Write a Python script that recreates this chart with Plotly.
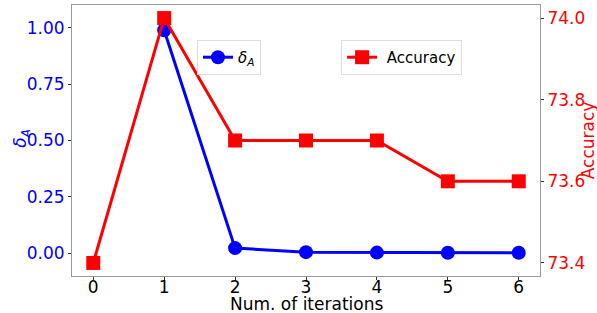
import plotly.graph_objects as go

iterations = [0, 1, 2, 3, 4, 5, 6]
delta_x = [1, 2, 3, 4, 5, 6]
delta_a = [0.99, 0.022, 0.004, 0.002, 0.001, 0.001]
accuracy = [73.4, 74.0, 73.7, 73.7, 73.7, 73.6, 73.6]
left_ticks = [0.0, 0.25, 0.5, 0.75, 1.0]
left_labels = ["0.00", "0.25", "0.50", "0.75", "1.00"]
right_ticks = [73.4, 73.6, 73.8, 74.0]
right_labels = ["73.4", "73.6", "73.8", "74.0"]

FONT = "DejaVu Sans"

fig = go.Figure()
fig.add_trace(go.Scatter(
    x=delta_x, y=delta_a, mode="lines+markers", name="<i>δ<sub>A</sub></i>",
    line=dict(color="#0000ff", width=3),
    marker=dict(symbol="circle", size=14, color="#0000ff"),
    legend="legend", yaxis="y", cliponaxis=False,
))
fig.add_trace(go.Scatter(
    x=iterations, y=accuracy, mode="lines+markers", name=" Accuracy",
    line=dict(color="#ff0000", width=3),
    marker=dict(symbol="square", size=14, color="#ff0000"),
    legend="legend2", yaxis="y2", cliponaxis=False,
))

axis_line = dict(showline=True, linecolor="#999999", linewidth=1, automargin=False,
                 ticks="outside", ticklen=3, tickcolor="#333333", showgrid=False, zeroline=False)

fig.update_layout(
    width=597, height=313,
    margin=dict(l=72, r=57, t=5, b=37),
    plot_bgcolor="white", paper_bgcolor="white",
    font=dict(family=FONT, size=17, color="black"),
    xaxis=dict(range=[-0.3, 6.3], tickmode="array", tickvals=iterations,
               tickfont=dict(size=17), mirror=True, ticklabelstandoff=-7, **axis_line),
    yaxis=dict(range=[-0.102, 1.102], tickmode="array", tickvals=left_ticks,
               ticktext=left_labels, tickfont=dict(size=17, color="#0000ff"),
               **axis_line),
    yaxis2=dict(range=[73.368, 74.032], overlaying="y", side="right", tickmode="array",
                tickvals=right_ticks, ticktext=right_labels,
                tickfont=dict(size=17, color="#ff0000"),
                **axis_line),
    legend=dict(x=0.267, y=0.871, xanchor="left", yanchor="top",
                bgcolor="rgba(255,255,255,0.8)", bordercolor="#dddddd", borderwidth=1,
                font=dict(size=15)),
    legend2=dict(x=0.575, y=0.871, xanchor="left", yanchor="top",
                 bgcolor="rgba(255,255,255,0.8)", bordercolor="#dddddd", borderwidth=1,
                 font=dict(size=15)),
    showlegend=True,
    annotations=[
        dict(text="Num. of iterations", xref="paper", yref="paper", x=0.5, y=-0.103,
             xanchor="center", yanchor="middle", showarrow=False, font=dict(size=17)),
        dict(text="<i>δ<sub>A</sub></i>", xref="paper", yref="paper", x=-0.107, y=0.51,
             xanchor="center", yanchor="middle", showarrow=False, textangle=-90,
             font=dict(size=17, color="#0000ff")),
        dict(text="Accuracy", xref="paper", yref="paper", x=1.102, y=0.5,
             xanchor="center", yanchor="middle", showarrow=False, textangle=-90,
             font=dict(size=17, color="#ff0000")),
    ],
)

fig.write_html("out.html", config={"displayModeBar": False},
               post_script="document.body.style.margin='0';document.body.style.overflow='hidden';")
